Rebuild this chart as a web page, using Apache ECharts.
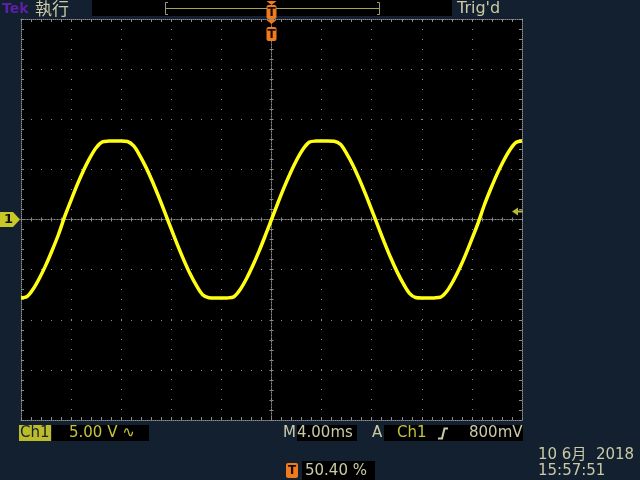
<!DOCTYPE html>
<html><head><meta charset="utf-8">
<script src="https://cdn.jsdelivr.net/npm/echarts@6/dist/echarts.min.js"></script>
<style>html,body{margin:0;padding:0;background:#13202f;}#c{width:640px;height:480px;}</style>
</head><body><div id="c"></div>
<script>
// ---- data (time in ms, CH1 in volts) ----
const timeMs = [-20,-19.5,-19,-18.5,-18,-17.5,-17,-16.5,-16,-15.5,-15,-14.5,-14,-13.5,-13,-12.5,-12,-11.5,-11,-10.5,
  -10,-9.5,-9,-8.5,-8,-7.5,-7,-6.5,-6,-5.5,-5,-4.5,-4,-3.5,-3,-2.5,-2,-1.5,-1,-0.5,
  0,0.5,1,1.5,2,2.5,3,3.5,4,4.5,5,5.5,6,6.5,7,7.5,8,8.5,9,9.5,
  10,10.5,11,11.5,12,12.5,13,13.5,14,14.5,15,15.5,16,16.5,17,17.5,18,18.5,19,19.5,20];
const ch1Volts = [-7.82,-7.67,-6.89,-5.79,-4.50,-3.04,-1.47,0.33,1.94,3.50,4.92,6.15,7.16,7.75,7.82,7.83,7.83,7.78,7.34,6.35,
  5.15,3.77,2.25,0.65,-0.97,-2.56,-4.05,-5.42,-6.58,-7.50,-7.80,-7.83,-7.83,-7.82,-7.70,-6.98,-5.91,-4.62,-3.18,-1.62,
  0,1.62,3.18,4.62,5.91,6.98,7.70,7.82,7.83,7.83,7.80,7.50,6.58,5.42,4.05,2.56,0.97,-0.65,-2.25,-3.77,
  -5.15,-6.35,-7.34,-7.78,-7.83,-7.83,-7.82,-7.75,-7.16,-6.15,-4.92,-3.50,-1.94,-0.33,1.47,3.04,4.50,5.79,6.89,7.67,7.82];

const timeRange = [-20, 20];   // 10 div x 4 ms
const timeDiv = 4;
const voltRange = [-20, 20];   // 8 div x 5 V
const voltDiv = 5;
const trigPosMs = 0;
const trigLevelV = 0.8;
const ch1Ground = 0;

const brandText = 'Tek';
const runText = '執行';
const trigText = "Trig'd";
const chLabel = 'Ch1';
const scaleText = '5.00 V \u223F';
const timeText = '4.00ms';
const trigChText = 'Ch1';
const trigLevelText = '800mV';
const trigPctText = '50.40 %';
const dateText = '10 6月  2018';
const clockText = '15:57:51';

// ---- chart ----
const grey = '#8a8a8a';
const khaki = '#cacaa4';
const yel = '#c4c43a';
const orange = '#f07a1e';
const FONT = '"DejaVu Sans","Noto Sans CJK TC",sans-serif';

const chart = echarts.init(document.getElementById('c'), null, {renderer:'canvas', width:640, height:480});

function axisBase(isX, pos, extra){
  const r = isX ? timeRange : voltRange;
  return Object.assign({
    type:'value', min:r[0], max:r[1], interval: isX ? timeDiv : voltDiv,
    position:pos, axisLabel:{show:false}, splitLine:{show:false},
    minorTick:{show:true, splitNumber:5, length:3, lineStyle:{color:grey}}
  }, extra);
}
const frameLine = {show:true, onZero:false, lineStyle:{color:grey, type:[1,1], width:1}};
const tickIn = {show:true, inside:true, length:3, lineStyle:{color:grey}};
const centerLine = (idx)=>({show:true, onZero:true, onZeroAxisIndex:idx, lineStyle:{color:grey, type:[1,2], width:1}});

const option = {
  animation:false,
  backgroundColor:'#13202f',
  grid:{left:21, top:19, width:501, height:401, show:true, backgroundColor:'#000', borderWidth:0, outerBoundsMode:'none', containLabel:false},
  xAxis:[
    axisBase(true,'bottom',{axisLine:frameLine, axisTick:tickIn, splitLine:{show:true, lineStyle:{color:grey, type:[1,9]}}}),
    axisBase(true,'top',{axisLine:frameLine, axisTick:tickIn}),
    axisBase(true,'bottom',{axisLine:centerLine(0), axisTick:{show:true, inside:false, length:2, lineStyle:{color:grey}}, minorTick:{show:true, splitNumber:5, length:2, lineStyle:{color:grey}}}),
    axisBase(true,'bottom',{axisLine:centerLine(0), axisTick:{show:true, inside:true, length:2, lineStyle:{color:grey}}, minorTick:{show:true, splitNumber:5, length:2, lineStyle:{color:grey}}})
  ],
  yAxis:[
    axisBase(false,'left',{axisLine:frameLine, axisTick:tickIn, splitLine:{show:true, lineStyle:{color:grey, type:[1,9]}}}),
    axisBase(false,'right',{axisLine:frameLine, axisTick:tickIn}),
    axisBase(false,'left',{axisLine:centerLine(0), axisTick:{show:true, inside:false, length:2, lineStyle:{color:grey}}, minorTick:{show:true, splitNumber:5, length:2, lineStyle:{color:grey}}}),
    axisBase(false,'left',{axisLine:centerLine(0), axisTick:{show:true, inside:true, length:2, lineStyle:{color:grey}}, minorTick:{show:true, splitNumber:5, length:2, lineStyle:{color:grey}}})
  ],
  series:[{
    type:'line', xAxisIndex:0, yAxisIndex:0,
    data: timeMs.map((t,i)=>[t, ch1Volts[i]]),
    showSymbol:false, smooth:0.3, silent:true, z:10,
    lineStyle:{color:'#ffff14', width:3.5}
  }]
};
chart.setOption(option);

const cx = chart.convertToPixel({xAxisIndex:0}, trigPosMs);
const gy = chart.convertToPixel({yAxisIndex:0}, ch1Ground);
const ty = chart.convertToPixel({yAxisIndex:0}, trigLevelV);

function txt(text, x, y, fill, size, extra){
  return {type:'text', z:100, style:Object.assign({text, x, y, fill, font: size+'px '+FONT, verticalAlign:'middle', align:'left'}, extra||{})};
}
function rect(x,y,w,h,fill,r){ return {type:'rect', z:90, shape:{x,y,width:w,height:h,r:r||0}, style:{fill}}; }
function tMarker(x, yTri, yBox){
  return [
    {type:'polygon', z:95, shape:{points:[[x-5,yTri],[x+5,yTri],[x,yTri+4]]}, style:{fill:orange}},
    rect(x-5, yBox, 10, 14, orange, 2),
    txt('T', x, yBox+7.5, '#1a0a00', 12, {align:'center', font:'bold 12px '+FONT})
  ];
}

const g = [
  // top bar
  rect(92, 0, 360, 16, '#000'),
  {type:'line', z:95, shape:{x1:165, y1:8.5, x2:380, y2:8.5}, style:{stroke:'#a6a650', lineWidth:1}},
  {type:'polyline', z:95, shape:{points:[[168,2.5],[165.5,2.5],[165.5,14.5],[168,14.5]]}, style:{stroke:'#9a9a80', lineWidth:1, fill:null}},
  {type:'polyline', z:95, shape:{points:[[377,2.5],[379.5,2.5],[379.5,14.5],[377,14.5]]}, style:{stroke:'#9a9a80', lineWidth:1, fill:null}},
  txt(brandText, 2, 9, '#5c1fa8', 14, {font:'bold 14px '+FONT}),
  txt(runText, 35, 8.5, khaki, 17, {font:'17px "Noto Sans CJK TC",sans-serif'}),
  txt(trigText, 457, 8.5, khaki, 16),
  // ground marker
  {type:'polygon', z:95, shape:{points:[[0,212],[13,212],[20,219.5],[13,227],[0,227]]}, style:{fill:'#c8c828'}},
  txt('1', 4, 220, '#101010', 13, {font:'bold 13px '+FONT}),
  // trigger level arrow
  {type:'polygon', z:95, shape:{points:[[512,ty],[518,ty-4],[518,ty+4]]}, style:{fill:'#b8b83c'}},
  {type:'line', z:95, shape:{x1:517, y1:ty, x2:523, y2:ty}, style:{stroke:'#b8b83c', lineWidth:2}},
  // bottom status row
  rect(19, 425, 32, 16, '#bcbc2a'),
  txt(chLabel, 20, 433.5, '#14202e', 15),
  rect(52, 425, 97, 16, '#000'),
  txt(scaleText, 69, 433.5, yel, 15),
  txt('M', 283, 433.5, khaki, 15),
  rect(297, 425, 60, 16, '#000'),
  txt(timeText, 297, 433.5, khaki, 15),
  txt('A', 372, 433.5, khaki, 15),
  rect(384, 425, 139, 16, '#000'),
  txt(trigChText, 397, 433.5, yel, 15),
  {type:'polyline', z:95, shape:{points:[[438,438.5],[442,438.5],[444.5,428.5],[448,428.5]]}, style:{stroke:khaki, lineWidth:2, fill:null}},
  txt(trigLevelText, 469, 433.5, khaki, 15),
  // trigger percentage
  rect(286, 463, 12, 15, orange, 2),
  txt('T', 292, 471, '#1a0a00', 12, {align:'center', font:'bold 12px '+FONT}),
  rect(302, 461, 73, 19, '#000'),
  txt(trigPctText, 305, 471, khaki, 15),
  // date / time
  txt(dateText, 538, 455, khaki, 15),
  txt(clockText, 538, 471.5, khaki, 15)
].concat(tMarker(cx, 1, 5), tMarker(cx, 20, 27));

chart.setOption({graphic: g});
</script>
</body></html>
